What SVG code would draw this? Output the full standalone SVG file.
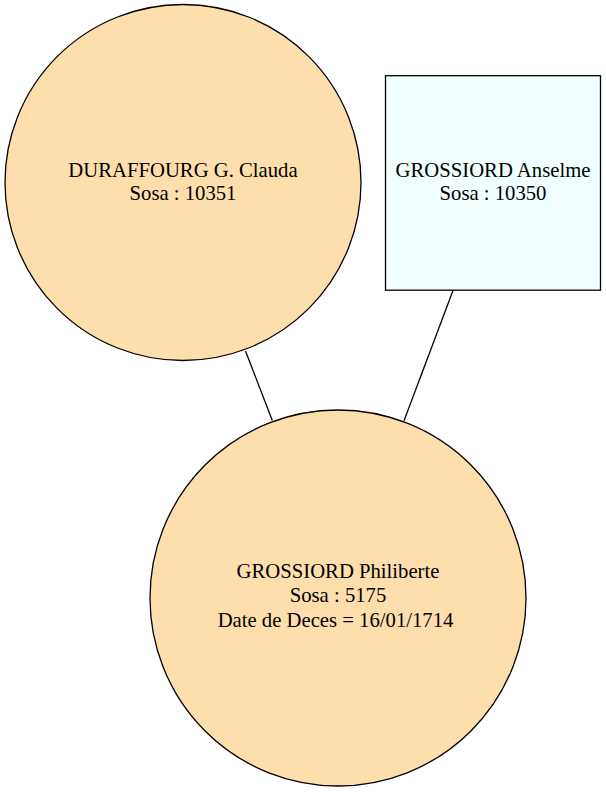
<svg xmlns="http://www.w3.org/2000/svg" width="606" height="792" viewBox="0 0 606 792">
<style>
.node { stroke: #000; stroke-width: 1.3; }
.f { fill: #FFDEAD; }
.m { fill: #F0FFFF; }
.t { font-family: 'Times New Roman', 'Liberation Serif', Times, serif; font-size: 20.7px; fill: #000; text-anchor: middle; }
.edge { stroke: #000; stroke-width: 1.3; fill: none; }
</style>
<rect width="606" height="792" fill="#fff"/>
<g id="edges">
<line class="edge" x1="245.5" y1="351" x2="272.3" y2="420.5"/>
<line class="edge" x1="453" y1="290.5" x2="404" y2="420.7"/>
</g>
<g id="node_clauda">
<circle class="node f" cx="183" cy="182.5" r="178"/>
<text class="t" x="183" y="176.7">DURAFFOURG G. Clauda</text>
<text class="t" x="183" y="200.2">Sosa : 10351</text>
</g>
<g id="node_anselme">
<rect class="node m" x="385.5" y="75.7" width="215" height="214.5"/>
<text class="t" x="493" y="176.7">GROSSIORD Anselme</text>
<text class="t" x="493" y="200.2">Sosa : 10350</text>
</g>
<g id="node_philiberte">
<circle class="node f" cx="338" cy="598" r="188"/>
<text class="t" x="338" y="578.3">GROSSIORD Philiberte</text>
<text class="t" x="338" y="602.3">Sosa : 5175</text>
<text class="t" x="335.5" y="626.5">Date de Deces = 16/01/1714</text>
</g>
</svg>
